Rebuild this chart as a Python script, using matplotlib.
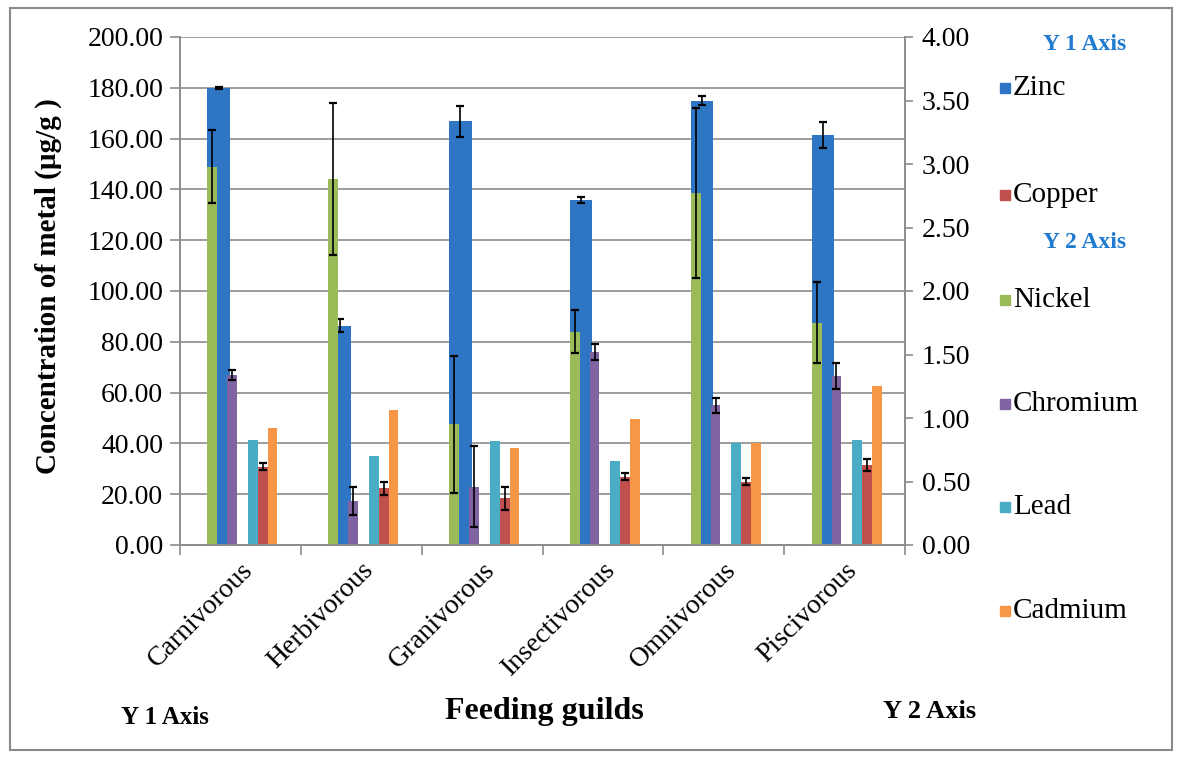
import numpy as np
import matplotlib
matplotlib.use("Agg")
import matplotlib.pyplot as plt
from matplotlib.patches import Rectangle
from matplotlib.ticker import FormatStrFormatter

# ── Data ────────────────────────────────────────────────────────────
guilds = ["Carnivorous", "Herbivorous", "Granivorous",
          "Insectivorous", "Omnivorous", "Piscivorous"]

# Y1 axis (µg/g)
zinc       = [180.0, 86.4, 166.8, 135.7, 175.0, 161.5]
zinc_err   = [0.5, 2.4, 6.0, 1.2, 1.7, 5.1]
copper     = [30.9, 22.3, 18.4, 26.9, 24.9, 31.5]
copper_err = [1.2, 2.6, 4.6, 1.3, 1.4, 2.5]

# Y2 axis (µg/g)
nickel       = [2.98, 2.88, 0.95, 1.68, 2.77, 1.75]
nickel_err   = [0.29, 0.60, 0.54, 0.17, 0.67, 0.32]
chromium     = [1.34, 0.35, 0.46, 1.52, 1.10, 1.33]
chromium_err = [0.04, 0.11, 0.32, 0.06, 0.06, 0.10]
lead         = [0.83, 0.70, 0.82, 0.66, 0.80, 0.83]
cadmium      = [0.92, 1.06, 0.76, 0.99, 0.80, 1.25]

# ── Style ───────────────────────────────────────────────────────────
W, H = 1182, 758
COLORS = dict(Zinc="#2E76C4", Copper="#C0504D", Nickel="#9BBB59",
              Chromium="#8064A2", Lead="#4BACC6", Cadmium="#F79646")
HEAD = "#1F7BD0"
GRID = "#8C8C8C"
# (offset, width) in category units, mimicking the Excel layout
POS = dict(Zinc=(-0.180, 0.186), Nickel=(-0.232, 0.083),
           Chromium=(-0.068, 0.079), Lead=(0.104, 0.083),
           Copper=(0.186, 0.083), Cadmium=(0.267, 0.079))

plt.rcParams["font.family"] = ["Liberation Serif", "DejaVu Serif"]

fig = plt.figure(figsize=(W / 100, H / 100), dpi=100)
ax = fig.add_axes([180 / W, 213 / H, 725 / W, 508 / H])
ax2 = ax.twinx()

x = np.arange(len(guilds))
ekw = dict(ecolor="black", elinewidth=1.2, capthick=1.6)


def draw(a, name, vals, err=None, z=2):
    off, w = POS[name]
    a.bar(x + off, vals, width=w, color=COLORS[name], zorder=z,
          yerr=err, capsize=3 if err is not None else 0, error_kw=ekw)


draw(ax, "Zinc", zinc, zinc_err)
draw(ax, "Copper", copper, copper_err)
draw(ax2, "Nickel", nickel, nickel_err)
draw(ax2, "Chromium", chromium, chromium_err)
draw(ax2, "Lead", lead)
draw(ax2, "Cadmium", cadmium)

# axes
ax.set_xlim(-0.5, len(guilds) - 0.5)
ax.set_ylim(0, 200)
ax.set_yticks(np.arange(0, 201, 20))
ax.yaxis.set_major_formatter(FormatStrFormatter("%.2f"))
ax2.set_ylim(0, 4)
ax2.set_yticks(np.arange(0, 4.01, 0.5))
ax2.yaxis.set_major_formatter(FormatStrFormatter("%.2f"))

ax.yaxis.grid(True, color=GRID, lw=1.2)
ax.set_axisbelow(True)

for a in (ax, ax2):
    a.spines["top"].set_visible(False)
    for s in ("left", "right", "bottom"):
        a.spines[s].set_color(GRID)
        a.spines[s].set_linewidth(1.2)

ax.tick_params(axis="y", direction="out", length=7, width=1.2,
               color=GRID, labelsize=20, pad=5)
ax2.tick_params(axis="y", direction="out", length=6, width=1.2,
                color=GRID, labelsize=20, pad=6)

ax.set_xticks(x)
ax.set_xticklabels(guilds, rotation=45, ha="right",
                   rotation_mode="anchor", fontsize=20)
ax.set_xticks(np.arange(-0.5, len(guilds), 1.0), minor=True)
ax.tick_params(axis="x", which="major", length=0, pad=9)
ax.tick_params(axis="x", which="minor", direction="out", length=7,
               width=1.2, color=GRID)

ax.set_ylabel("Concentration of metal (µg/g )", fontsize=21,
              fontweight="bold")
ax.yaxis.set_label_coords(-0.163, 0.51)

# bottom captions
fig.text(165 / W, 1 - 717 / H, "Y 1 Axis", fontsize=18,
         fontweight="bold", ha="center", va="center")
fig.text(544 / W, 1 - 712 / H, "Feeding guilds", fontsize=23,
         fontweight="bold", ha="center", va="center")
fig.text(930 / W, 1 - 712 / H, "Y 2 Axis", fontsize=19,
         fontweight="bold", ha="center", va="center")

# legend, laid out by hand like the original
legend_rows = [("head", "Y 1 Axis", 44), ("Zinc", "Zinc", 88),
               ("Copper", "Copper", 195), ("head", "Y 2 Axis", 243),
               ("Nickel", "Nickel", 300), ("Chromium", "Chromium", 404),
               ("Lead", "Lead", 507), ("Cadmium", "Cadmium", 611)]
for key, label, ypx in legend_rows:
    if key == "head":
        fig.text(1085 / W, 1 - ypx / H, label, fontsize=17,
                 fontweight="bold", color=HEAD, ha="center", va="center")
    else:
        fig.add_artist(Rectangle((1000 / W, 1 - (ypx + 5) / H), 10 / W,
                                 10 / H, transform=fig.transFigure,
                                 color=COLORS[key]))
        fig.text(1013 / W, 1 - ypx / H, label, fontsize=21,
                 ha="left", va="center")

# outer frame
fig.add_artist(Rectangle((10 / W, 8 / H), 1162 / W, 742 / H,
                         transform=fig.transFigure, fill=False,
                         edgecolor="#8A8A8A", lw=1.5))

fig.savefig("out.png", dpi=100)
